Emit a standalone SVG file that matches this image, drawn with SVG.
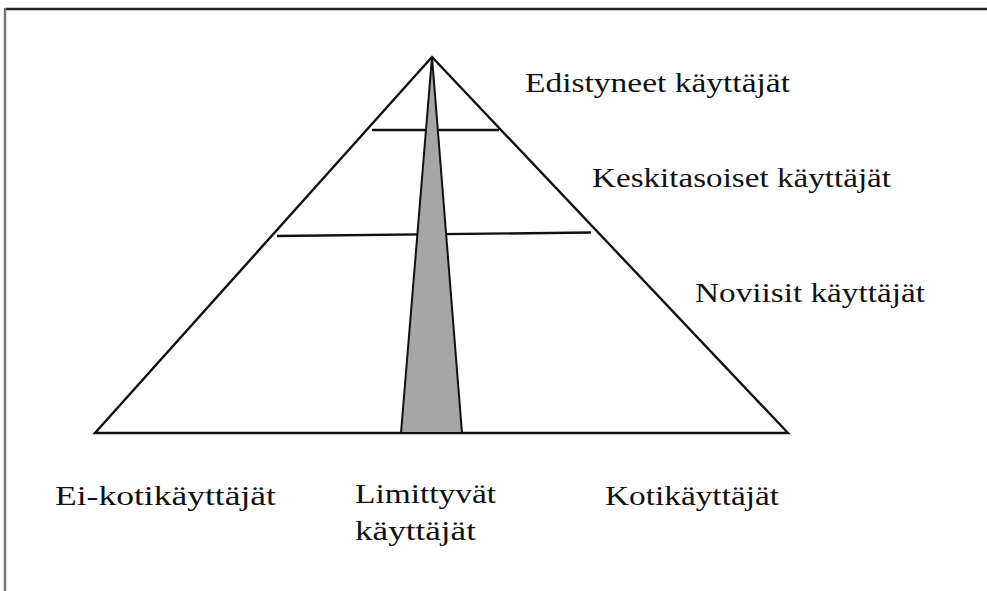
<svg xmlns="http://www.w3.org/2000/svg" width="987" height="591" viewBox="0 0 987 591">
<style>
.ln{stroke:#111;stroke-width:2.4;fill:none;stroke-linejoin:miter}
.lbl{font-family:"Liberation Serif","DejaVu Serif",serif;font-size:27px;fill:#111}
</style>
<rect width="987" height="591" fill="#fff"/>
<g id="frame">
<line x1="5" y1="9" x2="987" y2="9" stroke="#222" stroke-width="2.5"/>
<line x1="5" y1="8" x2="5" y2="591" stroke="#777" stroke-width="2.5"/>
</g>
<g id="pyramid">
<polygon class="ln" points="432,57 95,433 788,433"/>
<line class="ln" x1="372" y1="130" x2="499" y2="130"/>
<line class="ln" x1="277" y1="236" x2="591" y2="232.5"/>
<polygon points="432,57 401,433 462,433" fill="#a6a6a6" stroke="#111" stroke-width="2"/>
</g>
<g id="labels">
<text class="lbl" x="525" y="92" textLength="265" lengthAdjust="spacingAndGlyphs">Edistyneet käyttäjät</text>
<text class="lbl" x="592" y="187" textLength="299" lengthAdjust="spacingAndGlyphs">Keskitasoiset käyttäjät</text>
<text class="lbl" x="695" y="302" textLength="230" lengthAdjust="spacingAndGlyphs">Noviisit käyttäjät</text>
<text class="lbl" x="55" y="505" textLength="221" lengthAdjust="spacingAndGlyphs">Ei-kotikäyttäjät</text>
<text class="lbl" x="355" y="503" textLength="141" lengthAdjust="spacingAndGlyphs">Limittyvät</text>
<text class="lbl" x="355" y="540" textLength="121" lengthAdjust="spacingAndGlyphs">käyttäjät</text>
<text class="lbl" x="605" y="505" textLength="174" lengthAdjust="spacingAndGlyphs">Kotikäyttäjät</text>
</g>
</svg>
